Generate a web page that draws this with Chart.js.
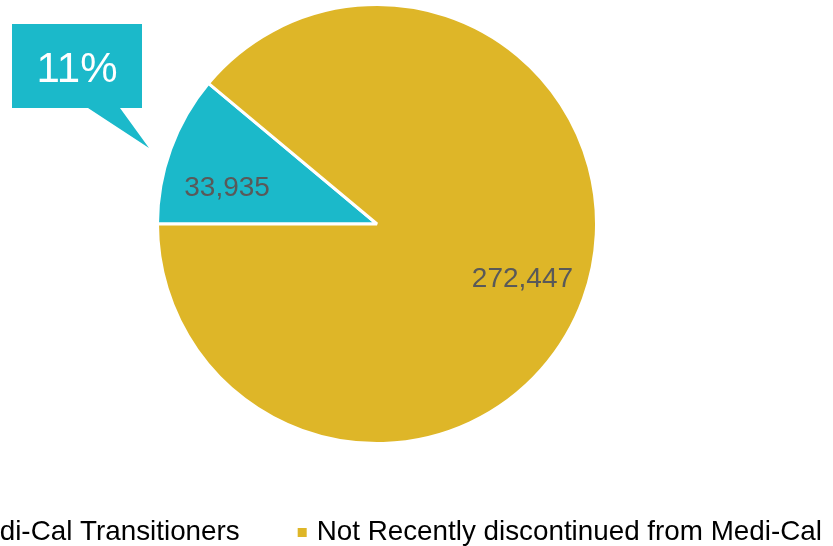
<!DOCTYPE html>
<html>
<head>
<meta charset="utf-8">
<script src="https://cdn.jsdelivr.net/npm/chart.js@4/dist/chart.umd.min.js"></script>
<style>
  html, body { margin: 0; padding: 0; background: #fff; overflow: hidden; }
  #wrap { width: 833px; height: 546px; position: relative; }
</style>
</head>
<body>
<div id="wrap"><canvas id="pieChart"></canvas></div>
<script>
const categories = ["Medi-Cal Transitioners", "Not Recently discontinued from Medi-Cal"];
const counts = [33935, 272447];
const sliceColors = ["#1BB9CA", "#DEB628"];

const FONT = '"Liberation Sans", Arial, sans-serif';
const LABEL_COLOR = "#595959";

// where along each slice (0..1 of its sweep) the value label sits
const labelSweep = [0.36, 0.5];

const sliceLabels = {
  id: "sliceLabels",
  afterDatasetsDraw(chart) {
    const ctx = chart.ctx;
    const meta = chart.getDatasetMeta(0);
    ctx.save();
    ctx.font = "28px " + FONT;
    ctx.fillStyle = LABEL_COLOR;
    ctx.textAlign = "center";
    ctx.textBaseline = "alphabetic";
    meta.data.forEach((arc, i) => {
      const a = arc.startAngle + (arc.endAngle - arc.startAngle) * labelSweep[i];
      const r = arc.outerRadius * 0.705;
      const x = arc.x + Math.cos(a) * r;
      const y = arc.y + Math.sin(a) * r;
      ctx.fillText(counts[i].toLocaleString("en-US"), x, y + 10);
    });
    ctx.restore();
  }
};

// teal speech-box with the share of the first slice
const shareCallout = {
  id: "shareCallout",
  afterDraw(chart) {
    const ctx = chart.ctx;
    const total = counts.reduce((s, v) => s + v, 0);
    const pct = Math.round(counts[0] / total * 100) + "%";
    ctx.save();
    ctx.fillStyle = sliceColors[0];
    ctx.beginPath();
    ctx.moveTo(12, 24);
    ctx.lineTo(142, 24);
    ctx.lineTo(142, 108);
    ctx.lineTo(120, 108);
    ctx.lineTo(149, 148);
    ctx.lineTo(88, 108);
    ctx.lineTo(12, 108);
    ctx.closePath();
    ctx.fill();
    ctx.fillStyle = "#fff";
    ctx.font = "42px " + FONT;
    ctx.textAlign = "center";
    ctx.textBaseline = "alphabetic";
    ctx.fillText(pct, 77, 82);
    ctx.restore();
  }
};

// bottom legend, wider than the page so its left end runs off the edge
const bottomLegend = {
  id: "bottomLegend",
  afterDraw(chart) {
    const ctx = chart.ctx;
    const box = 9, gap = 10, between = 58, centerX = 382;
    ctx.save();
    ctx.font = "27.8px " + FONT;
    const widths = categories.map(t => ctx.measureText(t).width);
    const total = widths.reduce((s, w) => s + w + box + gap, 0) + between * (categories.length - 1);
    let x = centerX - total / 2;
    ctx.textBaseline = "alphabetic";
    ctx.textAlign = "left";
    categories.forEach((t, i) => {
      ctx.fillStyle = sliceColors[i];
      ctx.fillRect(x, 528, box, box);
      x += box + gap;
      ctx.fillStyle = "#000";
      ctx.fillText(t, x, 540);
      x += widths[i] + between;
    });
    ctx.restore();
  }
};

new Chart(document.getElementById("pieChart").getContext("2d"), {
  type: "pie",
  data: {
    labels: categories,
    datasets: [{
      data: counts,
      backgroundColor: sliceColors,
      borderColor: "#fff",
      borderWidth: 3
    }]
  },
  options: {
    responsive: true,
    maintainAspectRatio: false,
    animation: false,
    rotation: 270,
    radius: 219.5,
    layout: { padding: { left: 0, right: 79, top: 0, bottom: 98 } },
    plugins: {
      legend: { display: false },
      tooltip: { enabled: false }
    }
  },
  plugins: [sliceLabels, shareCallout, bottomLegend]
});
</script>
</body>
</html>
